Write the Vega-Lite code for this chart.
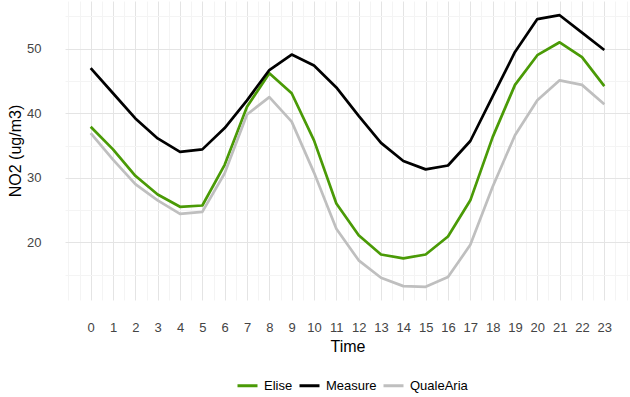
{
  "$schema": "https://vega.github.io/schema/vega-lite/v6.json",
  "width": 565,
  "height": 299,
  "autosize": "none",
  "padding": {"left": 65, "top": 1, "right": 0, "bottom": 97},
  "background": "white",
  "config": {
    "view": {"stroke": null},
    "font": "Liberation Sans",
    "axis": {"labelFont": "Liberation Sans", "titleFont": "Liberation Sans", "titleFontWeight": "normal", "labelColor": "#444444", "titleColor": "#000000", "domain": false, "ticks": false, "tickSize": 0, "labelOverlap": false, "labelFlush": false}
  },
  "data": {
    "values": [
      {"Time": 0, "Model": "Elise", "NO2": 37.9}, {"Time": 1, "Model": "Elise", "NO2": 34.4}, {"Time": 2, "Model": "Elise", "NO2": 30.3}, {"Time": 3, "Model": "Elise", "NO2": 27.4},
      {"Time": 4, "Model": "Elise", "NO2": 25.5}, {"Time": 5, "Model": "Elise", "NO2": 25.7}, {"Time": 6, "Model": "Elise", "NO2": 32.0}, {"Time": 7, "Model": "Elise", "NO2": 41.0},
      {"Time": 8, "Model": "Elise", "NO2": 46.2}, {"Time": 9, "Model": "Elise", "NO2": 43.1}, {"Time": 10, "Model": "Elise", "NO2": 35.8}, {"Time": 11, "Model": "Elise", "NO2": 26.0},
      {"Time": 12, "Model": "Elise", "NO2": 21.1}, {"Time": 13, "Model": "Elise", "NO2": 18.1}, {"Time": 14, "Model": "Elise", "NO2": 17.5}, {"Time": 15, "Model": "Elise", "NO2": 18.1},
      {"Time": 16, "Model": "Elise", "NO2": 20.9}, {"Time": 17, "Model": "Elise", "NO2": 26.5}, {"Time": 18, "Model": "Elise", "NO2": 36.3}, {"Time": 19, "Model": "Elise", "NO2": 44.4},
      {"Time": 20, "Model": "Elise", "NO2": 49.0}, {"Time": 21, "Model": "Elise", "NO2": 51.0}, {"Time": 22, "Model": "Elise", "NO2": 48.7}, {"Time": 23, "Model": "Elise", "NO2": 44.2},
      {"Time": 0, "Model": "Measure", "NO2": 47.0}, {"Time": 1, "Model": "Measure", "NO2": 43.1}, {"Time": 2, "Model": "Measure", "NO2": 39.2}, {"Time": 3, "Model": "Measure", "NO2": 36.1},
      {"Time": 4, "Model": "Measure", "NO2": 34.0}, {"Time": 5, "Model": "Measure", "NO2": 34.4}, {"Time": 6, "Model": "Measure", "NO2": 37.7}, {"Time": 7, "Model": "Measure", "NO2": 42.0},
      {"Time": 8, "Model": "Measure", "NO2": 46.7}, {"Time": 9, "Model": "Measure", "NO2": 49.1}, {"Time": 10, "Model": "Measure", "NO2": 47.4}, {"Time": 11, "Model": "Measure", "NO2": 44.0},
      {"Time": 12, "Model": "Measure", "NO2": 39.6}, {"Time": 13, "Model": "Measure", "NO2": 35.4}, {"Time": 14, "Model": "Measure", "NO2": 32.6}, {"Time": 15, "Model": "Measure", "NO2": 31.3},
      {"Time": 16, "Model": "Measure", "NO2": 31.9}, {"Time": 17, "Model": "Measure", "NO2": 35.7}, {"Time": 18, "Model": "Measure", "NO2": 42.6}, {"Time": 19, "Model": "Measure", "NO2": 49.5},
      {"Time": 20, "Model": "Measure", "NO2": 54.6}, {"Time": 21, "Model": "Measure", "NO2": 55.2}, {"Time": 22, "Model": "Measure", "NO2": 52.5}, {"Time": 23, "Model": "Measure", "NO2": 49.8},
      {"Time": 0, "Model": "QualeAria", "NO2": 36.9}, {"Time": 1, "Model": "QualeAria", "NO2": 32.8}, {"Time": 2, "Model": "QualeAria", "NO2": 29.0}, {"Time": 3, "Model": "QualeAria", "NO2": 26.5},
      {"Time": 4, "Model": "QualeAria", "NO2": 24.4}, {"Time": 5, "Model": "QualeAria", "NO2": 24.7}, {"Time": 6, "Model": "QualeAria", "NO2": 30.7}, {"Time": 7, "Model": "QualeAria", "NO2": 39.8},
      {"Time": 8, "Model": "QualeAria", "NO2": 42.5}, {"Time": 9, "Model": "QualeAria", "NO2": 38.7}, {"Time": 10, "Model": "QualeAria", "NO2": 30.8}, {"Time": 11, "Model": "QualeAria", "NO2": 22.1},
      {"Time": 12, "Model": "QualeAria", "NO2": 17.2}, {"Time": 13, "Model": "QualeAria", "NO2": 14.5}, {"Time": 14, "Model": "QualeAria", "NO2": 13.2}, {"Time": 15, "Model": "QualeAria", "NO2": 13.1},
      {"Time": 16, "Model": "QualeAria", "NO2": 14.6}, {"Time": 17, "Model": "QualeAria", "NO2": 19.6}, {"Time": 18, "Model": "QualeAria", "NO2": 28.6}, {"Time": 19, "Model": "QualeAria", "NO2": 36.6},
      {"Time": 20, "Model": "QualeAria", "NO2": 42.0}, {"Time": 21, "Model": "QualeAria", "NO2": 45.1}, {"Time": 22, "Model": "QualeAria", "NO2": 44.4}, {"Time": 23, "Model": "QualeAria", "NO2": 41.4}
    ]
  },
  "mark": {"type": "line", "strokeWidth": 2.7, "strokeJoin": "round", "strokeCap": "butt"},
  "encoding": {
    "x": {
      "field": "Time", "type": "quantitative",
      "scale": {"domain": [-1.15, 24.15], "nice": false, "zero": false},
      "axis": {
        "title": "Time", "titleFontSize": 16, "titlePadding": 4,
        "labelFontSize": 13, "labelPadding": 21,
        "values": [-1, -0.5, 0, 0.5, 1, 1.5, 2, 2.5, 3, 3.5, 4, 4.5, 5, 5.5, 6, 6.5, 7, 7.5, 8, 8.5, 9, 9.5, 10, 10.5, 11, 11.5, 12, 12.5, 13, 13.5, 14, 14.5, 15, 15.5, 16, 16.5, 17, 17.5, 18, 18.5, 19, 19.5, 20, 20.5, 21, 21.5, 22, 22.5, 23, 23.5, 24],
        "labelExpr": "(datum.value >= 0 && datum.value <= 23 && datum.value % 1 == 0) ? format(datum.value, 'd') : ''",
        "grid": true,
        "gridColor": {"condition": {"test": "datum.value % 1 != 0 || datum.value < 0 || datum.value > 23", "value": "#f4f4f4"}, "value": "#e4e4e4"},
        "gridWidth": 1
      }
    },
    "y": {
      "field": "NO2", "type": "quantitative",
      "scale": {"domain": [11.05, 57.4], "nice": false, "zero": false},
      "axis": {
        "title": "NO2 (ug/m3)", "titleFontSize": 16, "titlePadding": 3,
        "labelFontSize": 13, "labelPadding": 24,
        "values": [15, 20, 25, 30, 35, 40, 45, 50, 55],
        "labelExpr": "datum.value % 10 == 0 ? format(datum.value, 'd') : ''",
        "grid": true,
        "gridColor": {"condition": {"test": "datum.value % 10 != 0", "value": "#f4f4f4"}, "value": "#e4e4e4"},
        "gridWidth": 1
      }
    },
    "color": {
      "field": "Model", "type": "nominal",
      "scale": {"domain": ["Elise", "Measure", "QualeAria"], "range": ["#4a9a06", "#000000", "#bfbfbf"]},
      "legend": {
        "title": null, "orient": "none", "direction": "horizontal",
        "legendX": 171, "legendY": 373,
        "symbolType": "stroke", "symbolSize": 400, "symbolStrokeWidth": 3,
        "labelFont": "Liberation Sans", "labelFontSize": 13, "labelColor": "#000000",
        "labelOffset": 5, "columnPadding": 0
      }
    }
  }
}
